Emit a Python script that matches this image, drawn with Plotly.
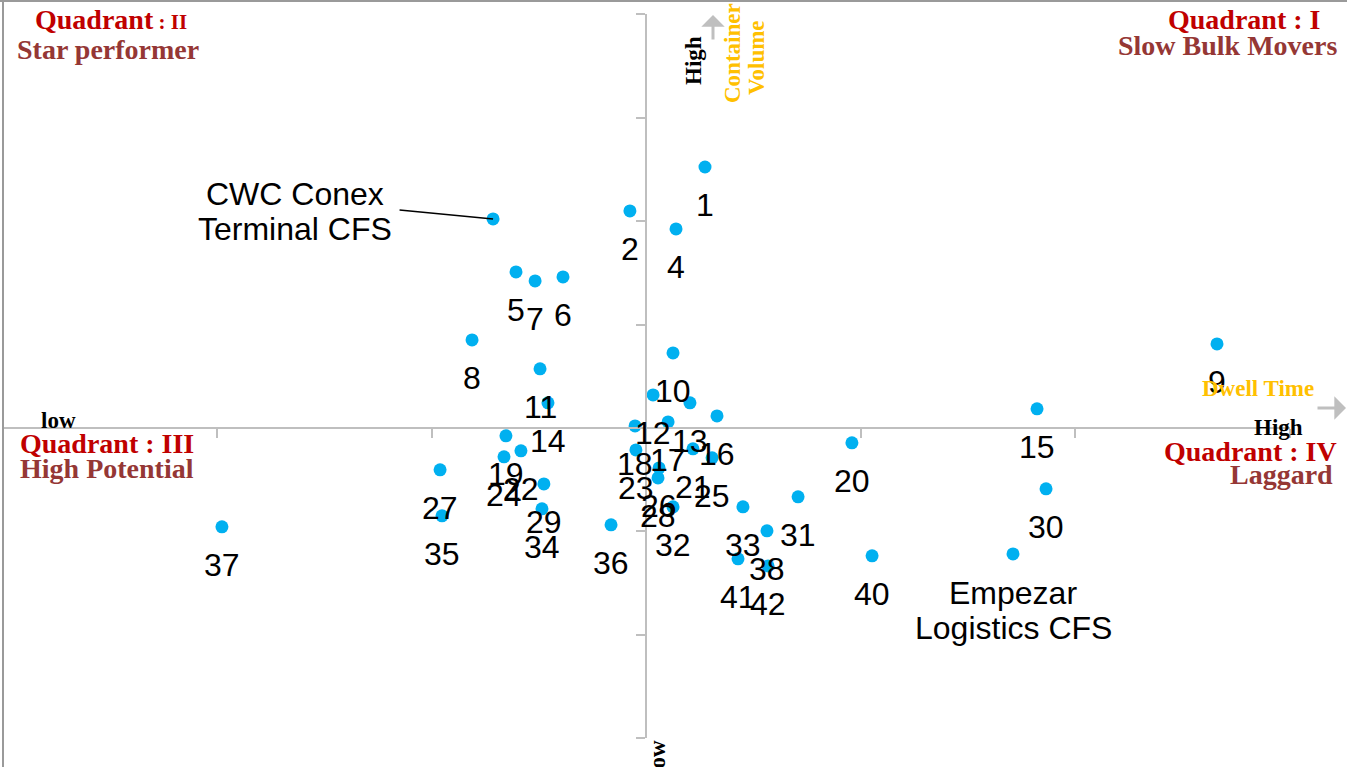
import plotly.graph_objects as go

# ---------------- data ----------------
point_ids = list(range(1, 43))
dwell_time = [0.275, -0.075, -0.713, 0.140, -0.606, -0.387, -0.517, -0.811, 2.662, 0.126,
              -0.494, 0.033, 0.205, -0.457, 1.823, 0.331, 0.103, -0.051, -0.653, 0.960,
              0.219, -0.583, -0.047, -0.662, 0.308, 0.061, -0.960, 0.056, -0.476, 1.865,
              0.709, 0.126, 0.452, -0.485, -0.951, -0.163, -1.977, 0.564, 1.711, 1.054,
              0.429, 0.569]
container_volume = [2.524, 2.099, 2.021, 1.925, 1.509, 1.460, 1.422, 0.851, 0.812, 0.725,
                    0.571, 0.319, 0.242, 0.242, 0.184, 0.116, 0.058, 0.019, -0.077, -0.145,
                    -0.203, -0.222, -0.213, -0.280, -0.290, -0.387, -0.406, -0.484, -0.542, -0.590,
                    -0.667, -0.764, -0.764, -0.783, -0.851, -0.938, -0.957, -0.996, -1.219, -1.238,
                    -1.267, -1.335]
named_points = {3: ["CWC Conex", "Terminal CFS"], 39: ["Empezar", "Logistics CFS"]}

quadrant_titles = ["Quadrant<span style='font-size:21px'> : II</span>", "Quadrant : I",
                   "Quadrant : III", "Quadrant : IV"]
quadrant_names = ["Star performer", "Slow Bulk Movers", "High Potential", "Laggard"]

# ---------------- layout helpers ----------------
W, H = 1347, 767


def px(x, y):
    return x / W, 1 - y / H


SERIF = "Liberation Serif, Times New Roman, serif"
SANS = "Liberation Sans, Arial, sans-serif"
QRED = "#C00000"
QBROWN = "#953735"
GOLD = "#FFC000"
AXIS_GRAY = "#BFBFBF"
LBL_SIZE = 32

fig = go.Figure()
fig.add_trace(go.Scatter(
    x=dwell_time, y=container_volume, mode="markers",
    marker=dict(size=13, color="#00B0F0", line=dict(width=0)),
    hoverinfo="skip", showlegend=False))

annotations = []
for pid, xv, yv in zip(point_ids, dwell_time, container_volume):
    if pid == 3:
        # leader line from text to point
        annotations.append(dict(x=xv, y=yv, xref="x", yref="y", text="",
                                showarrow=True, arrowhead=0, arrowwidth=1.5, arrowcolor="black",
                                ax=-95, ay=-9, standoff=0))
        for line, ys in zip(named_points[pid], [25, -10]):
            annotations.append(dict(x=xv, y=yv, xref="x", yref="y", text=line,
                                    showarrow=False, xshift=-198, yshift=ys,
                                    font=dict(family=SANS, size=LBL_SIZE, color="black")))
    elif pid == 39:
        for line, ys in zip(named_points[pid], [-39, -74]):
            annotations.append(dict(x=xv, y=yv, xref="x", yref="y", text=line,
                                    showarrow=False, yshift=ys,
                                    font=dict(family=SANS, size=LBL_SIZE, color="black")))
    else:
        annotations.append(dict(x=xv, y=yv, xref="x", yref="y", text=str(pid),
                                showarrow=False, yshift=-38,
                                font=dict(family=SANS, size=LBL_SIZE, color="black")))

# quadrant labels
q_specs = [((33, 19), "left"), ((1322, 20), "right"), ((18, 443), "left"), ((1339, 452), "right")]
n_specs = [((15, 50), "left"), ((1339, 46), "right"), ((18, 468), "left"), ((1335, 474), "right")]
for t, ((x, y), anc) in zip(quadrant_titles, q_specs):
    xp, yp = px(x, y)
    annotations.append(dict(x=xp, y=yp, xref="paper", yref="paper", text=f"<b>{t}</b>",
                            showarrow=False, xanchor=anc, yanchor="middle",
                            font=dict(family=SERIF, size=28, color=QRED)))
for t, ((x, y), anc) in zip(quadrant_names, n_specs):
    xp, yp = px(x, y)
    annotations.append(dict(x=xp, y=yp, xref="paper", yref="paper", text=f"<b>{t}</b>",
                            showarrow=False, xanchor=anc, yanchor="middle",
                            font=dict(family=SERIF, size=28, color=QBROWN)))

# axis texts
axis_texts = [
    ("low", 59, 420, 0, "black"),
    ("High", 1278, 427, 0, "black"),
    ("Dwell Time", 1258, 388, 0, GOLD),
    ("High", 693, 61, -90, "black"),
    ("Container", 732, 53, -90, GOLD),
    ("Volume", 757, 58, -90, GOLD),
    ("low", 657, 758, -90, "black"),
]
for t, x, y, ang, col in axis_texts:
    xp, yp = px(x, y)
    annotations.append(dict(x=xp, y=yp, xref="paper", yref="paper", text=f"<b>{t}</b>",
                            showarrow=False, xanchor="center", yanchor="middle", textangle=ang,
                            font=dict(family=SERIF, size=23, color=col)))

# axis arrows
for (x, y, ax, ay) in [(1346, 408, -30, 0), (713, 15, 0, 26)]:
    xp, yp = px(x, y)
    annotations.append(dict(x=xp, y=yp, xref="paper", yref="paper", text="",
                            showarrow=True, arrowhead=1, arrowsize=1.3, arrowwidth=3,
                            arrowcolor=AXIS_GRAY, ax=ax, ay=ay, standoff=0))

shapes = [
    dict(type="line", xref="paper", yref="paper", x0=3 / W, x1=3 / W, y0=0, y1=1,
         line=dict(color="#9A9A9A", width=2)),
    dict(type="line", xref="paper", yref="paper", x0=0, x1=1, y0=1 - 1 / H, y1=1 - 1 / H,
         line=dict(color="#9A9A9A", width=2)),
]

fig.update_layout(
    width=W, height=H,
    margin=dict(l=0, r=0, t=0, b=0),
    paper_bgcolor="white", plot_bgcolor="rgba(0,0,0,0)",
    xaxis=dict(domain=[2.5 / W, 1289.5 / W], range=[-3, 3], anchor="free",
               position=(H - 428) / H, showline=True, linecolor=AXIS_GRAY, linewidth=2,
               ticks="outside", ticklen=9, tickwidth=2, tickcolor=AXIS_GRAY, dtick=1, tick0=0,
               showticklabels=False, showgrid=False, zeroline=False, fixedrange=True),
    yaxis=dict(domain=[(H - 738) / H, (H - 14.4) / H], range=[-3, 4], anchor="free",
               position=646 / W, showline=True, linecolor=AXIS_GRAY, linewidth=2,
               ticks="outside", ticklen=9, tickwidth=2, tickcolor=AXIS_GRAY, dtick=1, tick0=0,
               showticklabels=False, showgrid=False, zeroline=False, fixedrange=True),
    annotations=annotations,
    shapes=shapes,
)

fig.write_html("out.html", config={"displayModeBar": False},
               post_script="document.body.style.margin='0px';document.body.style.overflow='hidden';")
